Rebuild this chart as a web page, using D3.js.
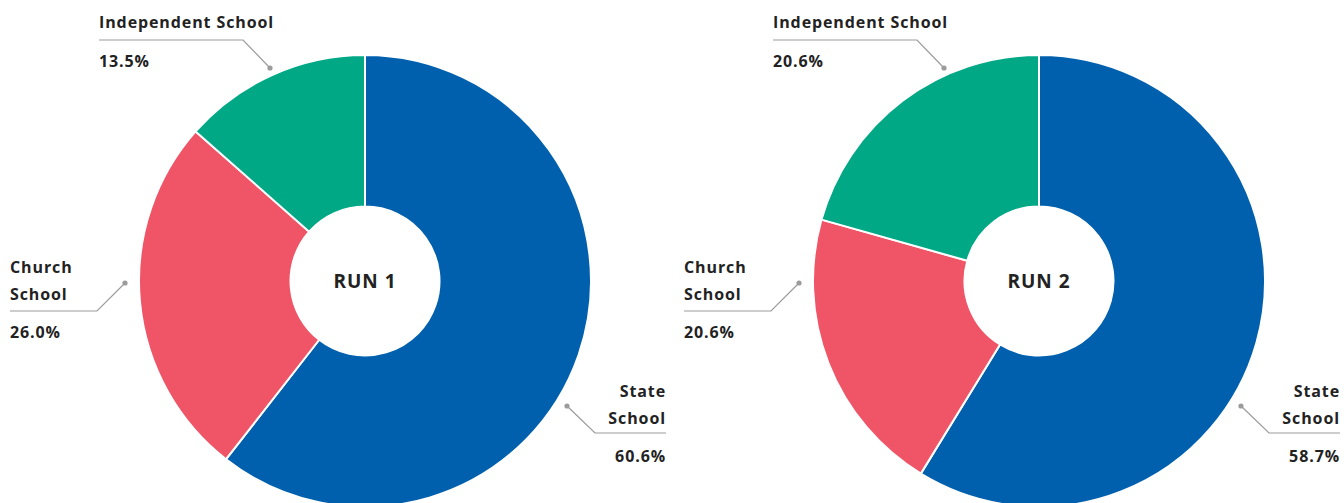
<!DOCTYPE html>
<html>
<head>
<meta charset="utf-8">
<script src="https://cdn.jsdelivr.net/npm/d3@7"></script>
<style>
  html, body { margin: 0; padding: 0; background: #ffffff; }
  svg { display: block; }
  text { font-family: "Open Sans", "Noto Sans", sans-serif; font-weight: 700; fill: #222222; }
</style>
</head>
<body>
<svg id="chart" width="1344" height="503"></svg>
<script>
// School type categories and their shares (%) for each run
const categories = ["State School", "Church School", "Independent School"];
const run1Values = [60.6, 26.0, 13.5];
const run2Values = [58.7, 20.6, 20.6];
const runTitles = ["RUN 1", "RUN 2"];
const categoryLines = [["State", "School"], ["Church", "School"], ["Independent School"]];
const colors = ["#0060ae", "#f05467", "#00a886"];

const outerR = 226, innerR = 74.5;
const centers = [{ x: 365, y: 281 }, { x: 1039, y: 281 }];

// Callout geometry per category, relative to each donut's centre
const callouts = [
  { anchor: "end",   x: 301,  nameY: 116,  lineY: 152, lineFrom: 230,  pctY: 181, dot: [202, 125] },
  { anchor: "start", x: -355, nameY: -8,   lineY: 30,  lineFrom: -268, pctY: 57,  dot: [-240, 2] },
  { anchor: "start", x: -266, nameY: -253, lineY: -241, lineFrom: -122, pctY: -214, dot: [-95, -213] }
];

const svg = d3.select("#chart");
const pie = d3.pie().sort(null).value(d => d.value);
const arc = d3.arc().innerRadius(innerR).outerRadius(outerR);
const color = d3.scaleOrdinal().domain(categories).range(colors);

[run1Values, run2Values].forEach((values, ri) => {
  const g = svg.append("g").attr("transform", `translate(${centers[ri].x},${centers[ri].y})`);
  const data = values.map((v, i) => ({ cat: categories[i], value: v }));

  g.selectAll("path.slice")
    .data(pie(data))
    .join("path")
    .attr("class", "slice")
    .attr("d", arc)
    .attr("fill", d => color(d.data.cat))
    .attr("stroke", "#ffffff")
    .attr("stroke-width", 2);

  g.append("text")
    .attr("text-anchor", "middle")
    .attr("dy", "0.36em")
    .style("font-size", "19px")
    .style("letter-spacing", "1px")
    .text(runTitles[ri]);

  data.forEach((d, i) => {
    const c = callouts[i];
    // leader line: rule under the name, then diagonal to the dot
    g.append("path")
      .attr("d", d3.line()([[c.x, c.lineY], [c.lineFrom, c.lineY], c.dot]))
      .attr("fill", "none")
      .attr("stroke", "#9b9b9b")
      .attr("stroke-width", 1.2);
    g.append("circle")
      .attr("cx", c.dot[0]).attr("cy", c.dot[1])
      .attr("r", 2.6)
      .attr("fill", "#9b9b9b");

    const name = g.append("text")
      .attr("text-anchor", c.anchor)
      .style("font-size", "16px")
      .style("letter-spacing", "0.9px");
    categoryLines[i].forEach((ln, li) => {
      name.append("tspan")
        .attr("x", c.x)
        .attr("y", c.nameY + li * 27)
        .text(ln);
    });

    g.append("text")
      .attr("text-anchor", c.anchor)
      .attr("x", c.x)
      .attr("y", c.pctY)
      .style("font-size", "16px")
      .style("letter-spacing", "0.9px")
      .text(d.value.toFixed(1) + "%");
  });
});
</script>
</body>
</html>
